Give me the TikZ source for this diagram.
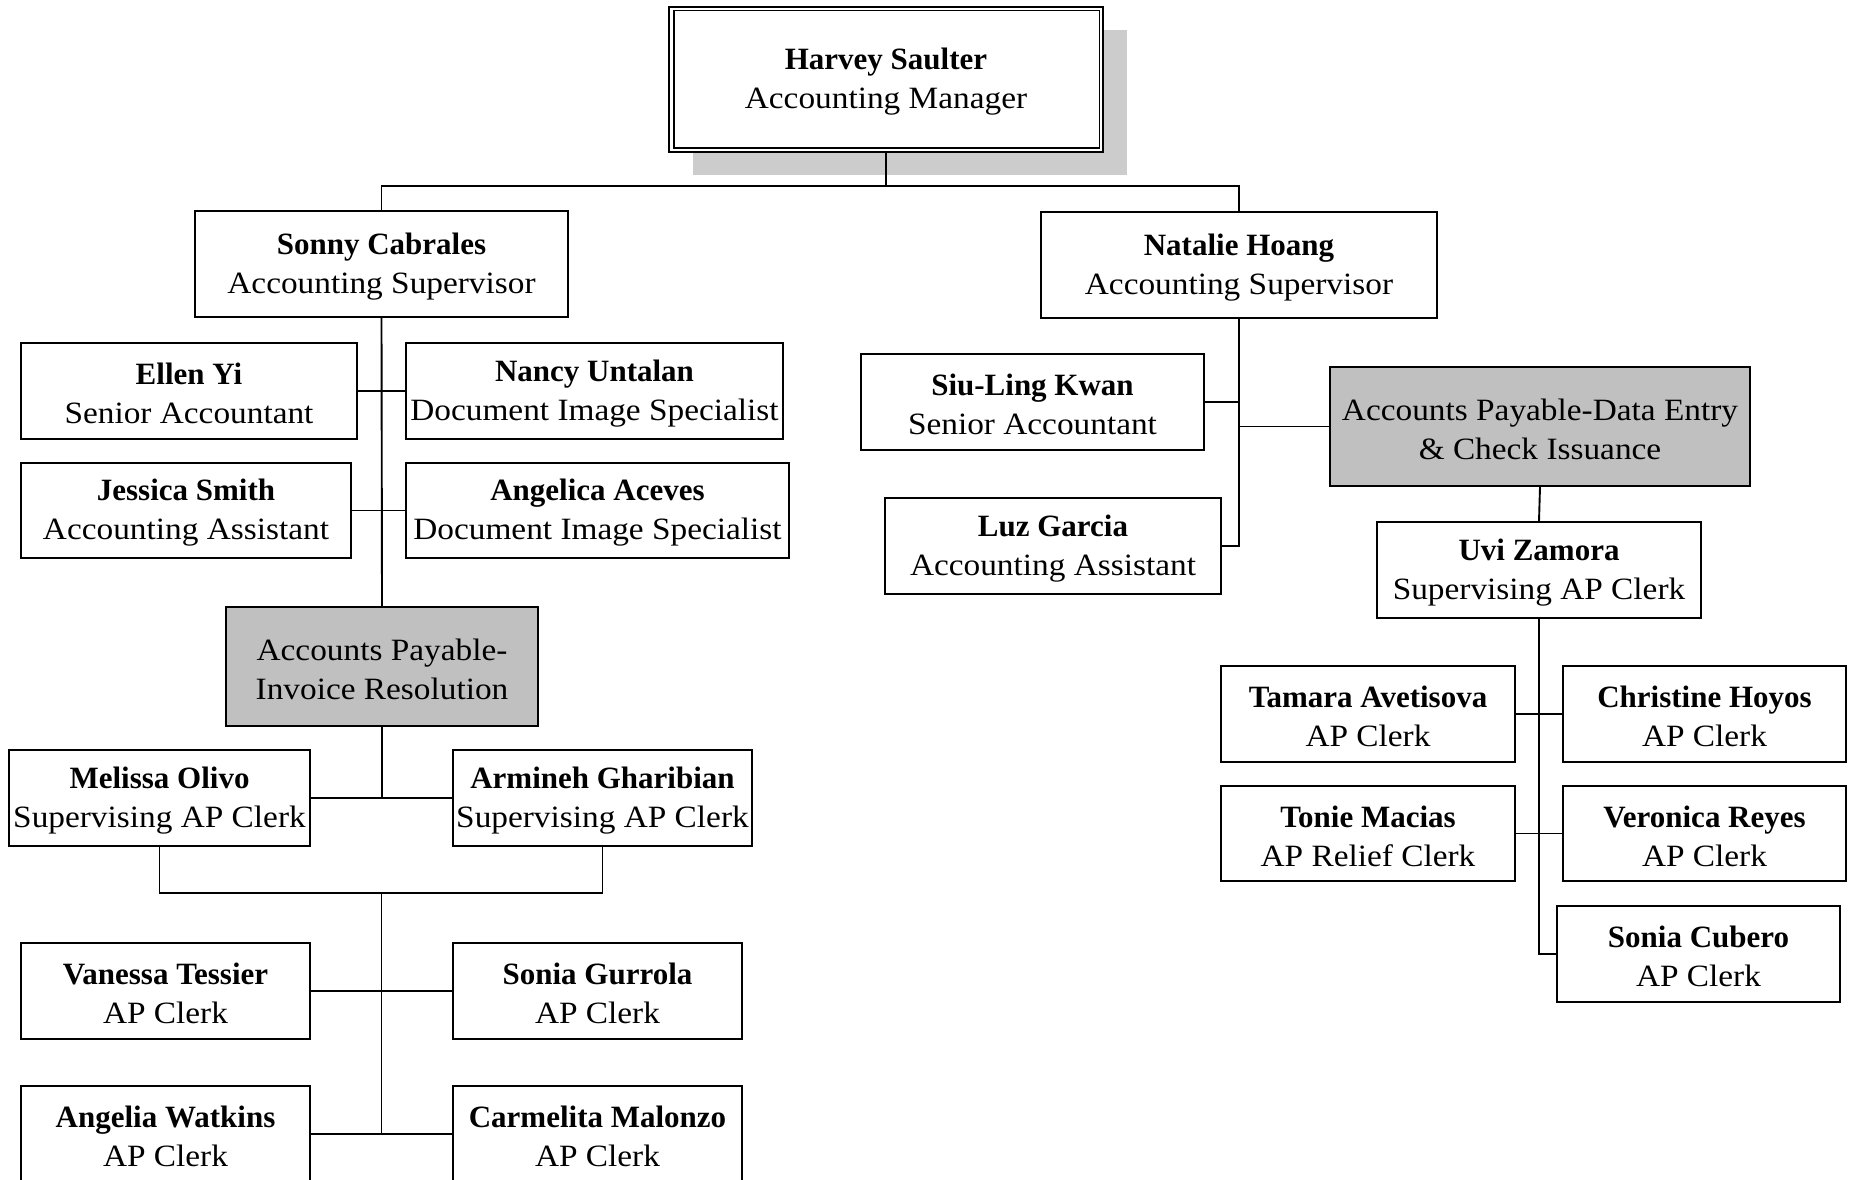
\documentclass[tikz,border=0pt]{standalone}
\usepackage{fontspec}
\setmainfont{Liberation Serif}
\newfontfamily\rolefont[FakeStretch=1.075]{Liberation Serif}
\newfontfamily\namefont{Liberation Serif}
\definecolor{shadowgray}{RGB}{204,204,204}
\definecolor{unitgray}{RGB}{192,192,192}
\newcommand\nm[1]{{\namefont\bfseries #1}}
\newcommand\mkbox[7][]{%
  \pgfmathsetmacro\cx{(#3+#5)/2}\pgfmathsetmacro\cy{(#4+#6)/2}%
  \pgfmathsetmacro\ww{#5-#3}\pgfmathsetmacro\hh{#6-#4}%
  \node[box,#1,minimum width=\ww pt,minimum height=\hh pt] (#2) at (\cx,\cy) {};
  \node[boxtext] (#2-text) at ([yshift=-2.5pt]#2.center) {#7};}
\tikzset{
  box/.style={draw, line width=1.9pt, fill=white, inner sep=0pt},
  boxtext/.style={align=center, inner sep=0pt,
    font=\rolefont\fontsize{31}{39}\selectfont},
  unit/.style={fill=unitgray},
  link/.style={line width=1.9pt}
}
\begin{document}
\begin{tikzpicture}[x=1pt,y=-1pt]
\useasboundingbox (0,0) rectangle (1855,1180);
% top manager
\fill[shadowgray] (693,30) rectangle (1127,175);
\mkbox[line width=2.4pt]{mgr}{669}{7}{1103}{152}{\nm{Harvey Saulter}\\Accounting Manager}
\draw[line width=1.4pt] ([shift={(6pt,-5pt)}]mgr.north west) rectangle ([shift={(-5pt,5pt)}]mgr.south east);
% supervisors
\mkbox{sonny}{195}{211}{568}{317}{\nm{Sonny Cabrales}\\Accounting Supervisor}
\mkbox{natalie}{1041}{212}{1437}{318}{\nm{Natalie Hoang}\\Accounting Supervisor}
% left group
\mkbox{ellen}{21}{343}{357}{439}{\nm{Ellen Yi}\\Senior Accountant}
\mkbox{nancy}{406}{343}{783}{439}{\nm{Nancy Untalan}\\Document Image Specialist}
\mkbox{jessica}{21}{463}{351}{558}{\nm{Jessica Smith}\\Accounting Assistant}
\mkbox{angelica}{406}{463}{789}{558}{\nm{Angelica Aceves}\\Document Image Specialist}
\mkbox[unit]{apir}{226}{607}{538}{726}{Accounts Payable-\\Invoice Resolution}
\mkbox{melissa}{9}{750}{310}{846}{\nm{Melissa Olivo}\\Supervising AP Clerk}
\mkbox{armineh}{453}{750}{752}{846}{\nm{Armineh Gharibian}\\Supervising AP Clerk}
\mkbox{vanessa}{21}{943}{310}{1039}{\nm{Vanessa Tessier}\\AP Clerk}
\mkbox{gurrola}{453}{943}{742}{1039}{\nm{Sonia Gurrola}\\AP Clerk}
\mkbox{angelia}{21}{1086}{310}{1182}{\nm{Angelia Watkins}\\AP Clerk}
\mkbox{carmelita}{453}{1086}{742}{1182}{\nm{Carmelita Malonzo}\\AP Clerk}
% right group
\mkbox{siu}{861}{354}{1204}{450}{\nm{Siu-Ling Kwan}\\Senior Accountant}
\mkbox{luz}{885}{498}{1221}{594}{\nm{Luz Garcia}\\Accounting Assistant}
\mkbox[unit]{apde}{1330}{367}{1750}{486}{Accounts Payable-Data Entry\\\& Check Issuance}
\mkbox{uvi}{1377}{522}{1701}{618}{\nm{Uvi Zamora}\\Supervising AP Clerk}
\mkbox{tamara}{1221}{666}{1515}{762}{\nm{Tamara Avetisova}\\AP Clerk}
\mkbox{christine}{1563}{666}{1846}{762}{\nm{Christine Hoyos}\\AP Clerk}
\mkbox{tonie}{1221}{786}{1515}{881}{\nm{Tonie Macias}\\AP Relief Clerk}
\mkbox{veronica}{1563}{786}{1846}{881}{\nm{Veronica Reyes}\\AP Clerk}
\mkbox{cubero}{1557}{906}{1840}{1002}{\nm{Sonia Cubero}\\AP Clerk}
% connectors
\coordinate (topbar) at (886,186);
\draw[link] (mgr.south) -- (topbar);
\draw[link] (sonny.north) |- (topbar) -| (natalie.north);
\draw[link] (sonny.south) -- (apir.north);
\draw[link] (ellen.east) -- (nancy.west);
\draw[link] (jessica.east) -- (angelica.west);
\draw[link] (apir.south) -- (apir.south |- melissa.east);
\draw[link] (melissa.east) -- (armineh.west);
\coordinate (bm) at (381.5,893);
\coordinate (bl) at (381.5,1134);
\draw[link] (melissa.south) |- (bm) -| (armineh.south);
\draw[link] (bm) -- (bl);
\draw[link] (vanessa.east) -- (gurrola.west);
\draw[link] (angelia.east) -- (carmelita.west);
\draw[link] (natalie.south) |- (luz.east);
\draw[link] (siu.east) -- (siu.east -| natalie.south);
\draw[link] (apde.west) -- (apde.west -| natalie.south);
\draw[link] (apde.south) -- (uvi.north);
\draw[link] (uvi.south) |- (cubero.west);
\draw[link] (tamara.east) -- (christine.west);
\draw[link] (tonie.east) -- (veronica.west);
\end{tikzpicture}
\end{document}
